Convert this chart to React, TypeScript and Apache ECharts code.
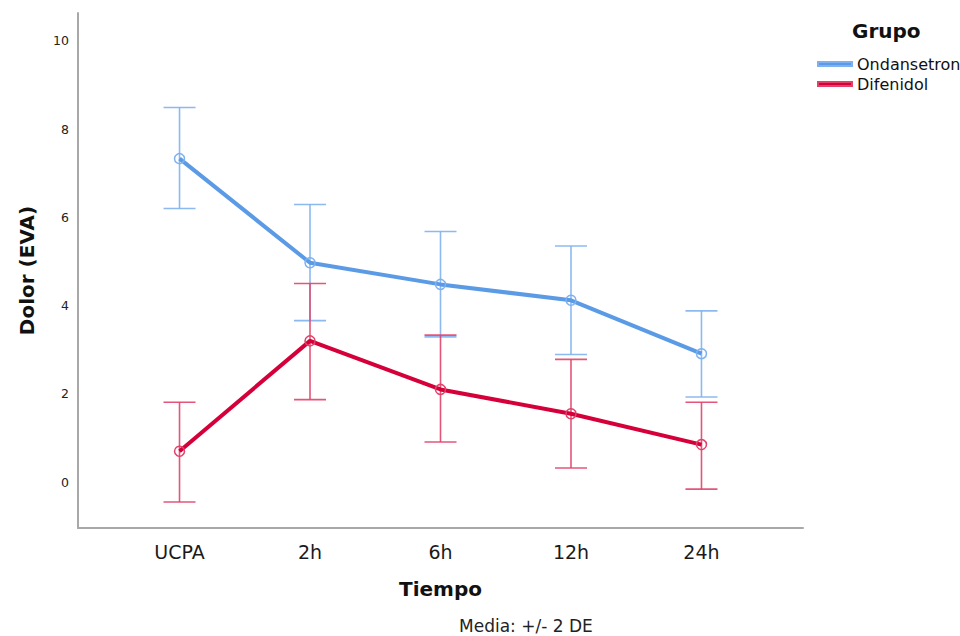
import React, { useEffect, useRef } from "react";
import * as echarts from "echarts";

const categories = ["UCPA", "2h", "6h", "12h", "24h"];
const ondMean = [7.33, 4.97, 4.48, 4.12, 2.91];
const ondUpper = [8.49, 6.29, 5.68, 5.35, 3.88];
const ondLower = [6.2, 3.66, 3.29, 2.89, 1.93];
const difMean = [0.7, 3.2, 2.1, 1.55, 0.85];
const difUpper = [1.81, 4.5, 3.33, 2.78, 1.81];
const difLower = [-0.45, 1.87, 0.91, 0.32, -0.16];
const yTicks = [0, 2, 4, 6, 8, 10];
const xTicks = [0, 1, 2, 3, 4];

const FONT = "DejaVu Sans";
const BLUE = "#5b9be6";
const BLUE_LIGHT = "#7fb1ee";
const RED = "#d5003a";
const RED_LIGHT = "#e0426a";

function errorBarSeries(name: string, lower: number[], upper: number[], color: string) {
  return {
    type: "custom",
    name,
    z: 3,
    data: lower.map((lo, i) => [i, lo, upper[i]]),
    encode: { x: 0, y: [1, 2] },
    renderItem: (params: any, api: any) => {
      const x = api.value(0);
      const lo = api.coord([x, api.value(1)]);
      const hi = api.coord([x, api.value(2)]);
      const hw = 16;
      const style = { stroke: color, lineWidth: 1.6, opacity: 0.9 };
      return {
        type: "group",
        children: [
          { type: "line", shape: { x1: hi[0], y1: hi[1], x2: lo[0], y2: lo[1] }, style },
          { type: "line", shape: { x1: hi[0] - hw, y1: hi[1], x2: hi[0] + hw, y2: hi[1] }, style },
          { type: "line", shape: { x1: lo[0] - hw, y1: lo[1], x2: lo[0] + hw, y2: lo[1] }, style },
        ],
      };
    },
  };
}

export default function App() {
  const ref = useRef<HTMLDivElement>(null);
  useEffect(() => {
    if (!ref.current) return;
    const chart = echarts.init(ref.current, undefined, { renderer: "svg" });
    chart.setOption({
      animation: false,
      backgroundColor: "#ffffff",
      textStyle: { fontFamily: FONT },
      grid: { left: 78, right: 157, top: 13, bottom: 108, containLabel: false },
      graphic: [
        {
          type: "text",
          left: 852,
          top: 21,
          style: { text: "Grupo", fontFamily: FONT, fontSize: 20, fontWeight: "bold", fill: "#111" },
        },
        {
          type: "text",
          left: 459,
          top: 617,
          style: { text: "Media: +/- 2 DE", fontFamily: FONT, fontSize: 17, fill: "#222" },
        },
      ],
      legend: {
        orient: "vertical",
        left: 812,
        top: 51,
        icon: "rect",
        itemWidth: 34,
        itemHeight: 4,
        itemGap: 4,
        textStyle: { fontFamily: FONT, fontSize: 16, color: "#111" },
        data: [
          { name: "Ondansetron", itemStyle: { color: BLUE } },
          { name: "Difenidol", itemStyle: { color: RED } },
        ],
      },
      xAxis: {
        type: "value",
        min: -0.778,
        max: 4.778,
        name: "Tiempo",
        nameLocation: "middle",
        nameGap: 51,
        nameTextStyle: { fontFamily: FONT, fontSize: 20, fontWeight: "bold", color: "#111" },
        axisLine: { show: true, onZero: false, lineStyle: { color: "#a8a8a8", width: 2 } },
        axisTick: { show: false },
        splitLine: { show: false },
        axisLabel: {
          customValues: xTicks,
          formatter: (v: number) => categories[Math.round(v)] ?? "",
          fontFamily: FONT,
          fontSize: 19,
          color: "#1a1a1a",
          margin: 14,
        },
      },
      yAxis: {
        type: "value",
        min: -1.04,
        max: 10.63,
        name: "Dolor (EVA)",
        nameLocation: "middle",
        nameGap: 41,
        nameRotate: 90,
        nameTextStyle: { fontFamily: FONT, fontSize: 20, fontWeight: "bold", color: "#111" },
        axisLine: { show: true, onZero: false, lineStyle: { color: "#a8a8a8", width: 2 } },
        axisTick: { show: false },
        splitLine: { show: false },
        axisLabel: {
          customValues: yTicks,
          fontFamily: FONT,
          fontSize: 12.5,
          color: "#222",
          margin: 9,
        },
      },
      series: [
        errorBarSeries("ondErr", ondLower, ondUpper, BLUE_LIGHT),
        errorBarSeries("difErr", difLower, difUpper, RED_LIGHT),
        {
          type: "line",
          name: "Ondansetron",
          z: 4,
          data: ondMean.map((v, i) => [i, v]),
          symbol: "circle",
          symbolSize: 10,
          lineStyle: { color: BLUE, width: 4 },
          itemStyle: { color: "rgba(0,0,0,0)", borderColor: BLUE_LIGHT, borderWidth: 1.5 },
        },
        {
          type: "line",
          name: "Difenidol",
          z: 4,
          data: difMean.map((v, i) => [i, v]),
          symbol: "circle",
          symbolSize: 10,
          lineStyle: { color: RED, width: 4 },
          itemStyle: { color: "rgba(0,0,0,0)", borderColor: RED_LIGHT, borderWidth: 1.5 },
        },
      ],
    });
    return () => chart.dispose();
  }, []);
  return <div ref={ref} style={{ width: 960, height: 636, position: "absolute", left: 0, top: 0 }} />;
}
